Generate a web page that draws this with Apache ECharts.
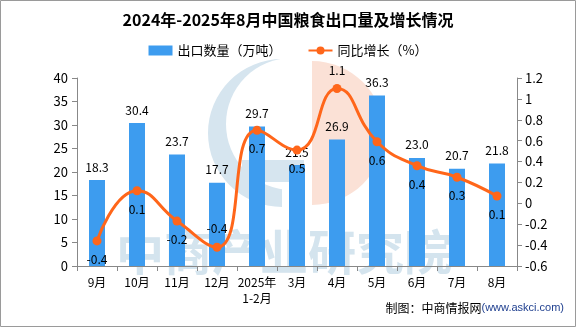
<!DOCTYPE html>
<html><head><meta charset="utf-8">
<script src="https://cdn.jsdelivr.net/npm/echarts@6/dist/echarts.min.js"></script>
<style>html,body{margin:0;padding:0;background:#fff}#c{width:576px;height:327px}</style>
</head><body><div id="c"></div>
<script>
const categories = ['9月','10月','11月','12月','2025年\n1-2月','3月','4月','5月','6月','7月','8月'];
const exportVolume = [18.3, 30.4, 23.7, 17.7, 29.7, 21.5, 26.9, 36.3, 23.0, 20.7, 21.8];
const growthRate = [-0.36, 0.12, -0.17, -0.42, 0.70, 0.51, 1.10, 0.59, 0.36, 0.25, 0.07];
const growthLabelPos = ['bottom','bottom','bottom','top','bottom','bottom','top','bottom','bottom','bottom','bottom'];
const leftTicks = {min: 0, max: 40, interval: 5};
const rightTicks = {min: -0.6, max: 1.2, interval: 0.2};

const font = '"Noto Sans CJK SC", sans-serif';
const chart = echarts.init(document.getElementById('c'));
chart.setOption({
  backgroundColor: '#fff',
  animation: false,
  textStyle: {fontFamily: font},
  title: {text: '2024年-2025年8月中国粮食出口量及增长情况', left: 'center', top: 7,
    textStyle: {fontSize: 16, fontWeight: 'bold', color: '#000', fontFamily: font}},
  legend: {top: 39, left: 'center', itemGap: 26, itemWidth: 24, itemHeight: 10,
    textStyle: {fontSize: 13, color: '#000', fontFamily: font},
    data: [{name: '出口数量（万吨）', icon: 'rect'}, {name: '同比增长（%）'}]},
  grid: {left: 77, right: 59, top: 78, bottom: 61},
  graphic: [
    {type: 'rect', shape: {x: 0.5, y: 0.5, width: 575, height: 326}, style: {fill: 'none', stroke: '#9a9a9a', lineWidth: 1}, z: 100},
    {type: 'group', z: 0, children: [
      {type: 'sector', shape: {cx: 282, cy: 133, r: 74, r0: 0, startAngle: Math.PI/2, endAngle: Math.PI*1.5+0.3}, style: {fill: '#D6E5EF'}},
      {type: 'circle', shape: {cx: 292, cy: 124, r: 66}, style: {fill: '#fff'}},
      {type: 'rect', shape: {x: 242, y: 160, width: 62, height: 22}, style: {fill: '#D6E5EF'}},
      {type: 'sector', shape: {cx: 312, cy: 133, r: 72, r0: 0, startAngle: -Math.PI/2, endAngle: Math.PI/2}, style: {fill: '#FBE1D6'}, scaleX: 1},
      {type: 'text', x: 116, y: 228, style: {text: '中商产业研究院', font: 'bold 48px "Noto Sans CJK SC"', fill: '#D4E4EE'}}
    ]},
    {type: 'text', right: 12, top: 302, style: {rich: {a: {fontSize: 12, fill: '#000', fontFamily: font}, b: {fontSize: 11, fill: '#1F3F8F', fontFamily: 'Liberation Sans'}}, text: '{a|制图：中商情报网}{b|(www.askci.com)}'}, z: 10}
  ],
  xAxis: {type: 'category', data: categories,
    axisLine: {lineStyle: {color: '#888'}},
    axisTick: {show: true, alignWithLabel: false, length: 5, lineStyle: {color: '#888'}},
    axisLabel: {color: '#000', fontSize: 12, interval: 0, margin: 8, lineHeight: 16, fontFamily: font}},
  yAxis: [
    {type: 'value', min: leftTicks.min, max: leftTicks.max, interval: leftTicks.interval,
      splitLine: {show: false},
      axisLine: {show: true, lineStyle: {color: '#888'}},
      axisTick: {show: true, length: 5, lineStyle: {color: '#888'}},
      axisLabel: {color: '#000', fontSize: 13, margin: 9, fontFamily: font}},
    {type: 'value', min: rightTicks.min, max: rightTicks.max, interval: rightTicks.interval,
      splitLine: {show: false},
      axisLine: {show: true, lineStyle: {color: '#888'}},
      axisTick: {show: true, length: 5, lineStyle: {color: '#888'}},
      axisLabel: {color: '#000', fontSize: 13, margin: 8, fontFamily: font}}
  ],
  series: [
    {name: '出口数量（万吨）', type: 'bar', yAxisIndex: 0, data: exportVolume, barWidth: 16,
      itemStyle: {color: '#3D9CEF'},
      label: {show: true, position: 'top', distance: 7, color: '#000', fontSize: 12, fontFamily: font,
        formatter: p => p.value.toFixed(1)}, z: 2},
    {name: '同比增长（%）', type: 'line', yAxisIndex: 1, smooth: true, symbol: 'circle', symbolSize: 9,
      data: growthRate.map((v, i) => ({value: v, label: {position: growthLabelPos[i]}})),
      lineStyle: {color: '#FF661A', width: 3}, itemStyle: {color: '#FF661A'},
      label: {show: true, color: '#000', fontSize: 12, distance: 8, fontFamily: font,
        formatter: p => p.value.toFixed(1)}, z: 3}
  ]
});
</script></body></html>
